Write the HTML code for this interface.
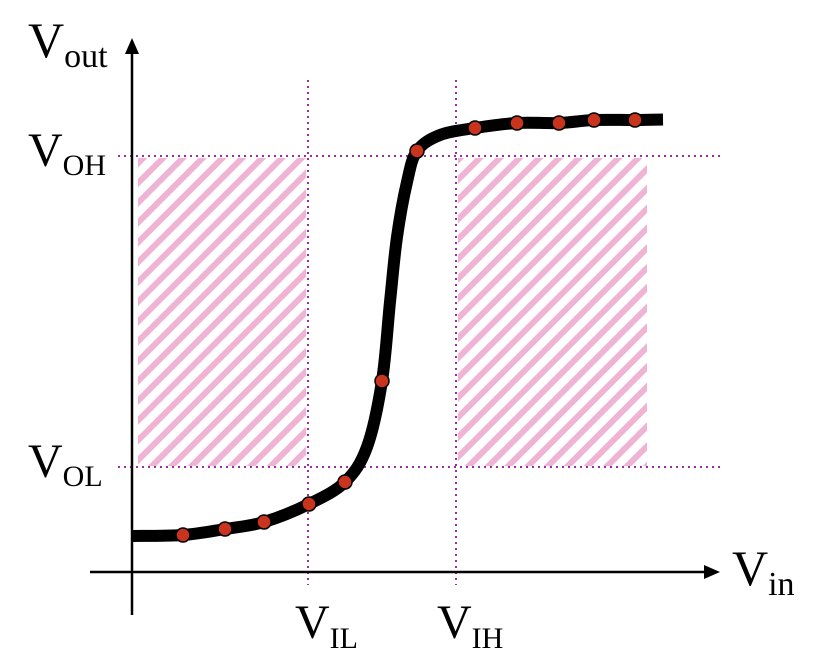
<!DOCTYPE html>
<html><head><meta charset="utf-8"><style>
body{margin:0;background:#fff}
svg text{font-family:"Liberation Serif",serif;fill:#000}
</style></head><body>
<svg width="818" height="666" viewBox="0 0 818 666">
<defs>
<pattern id="hatch" patternUnits="userSpaceOnUse" width="14" height="14" patternTransform="rotate(45)">
<rect x="0" y="0" width="6" height="14" fill="#efb3d3"/>
</pattern>
</defs>
<g id="regions"></g>
<g id="guides" stroke="#9b2fa0" stroke-width="2" stroke-dasharray="2,4"></g>
<line x1="132" y1="615" x2="132" y2="50" stroke="#000" stroke-width="2.5"/>
<polygon points="132,38 125,54 139,54" fill="#000"/>
<line x1="90" y1="572" x2="708" y2="572" stroke="#000" stroke-width="2.5"/>
<polygon points="720,572 704,565 704,579" fill="#000"/>
<path id="curve" fill="none" stroke="#000" stroke-width="12" stroke-linecap="butt"/>
<g id="points"></g>
<text x="28" y="57" font-size="50">V<tspan font-size="34" dy="10">out</tspan></text>
<text x="28" y="166" font-size="48">V<tspan font-size="30" dy="9">OH</tspan></text>
<text x="28" y="477" font-size="48">V<tspan font-size="30" dy="9">OL</tspan></text>
<text x="295" y="638" font-size="48">V<tspan font-size="30" dy="10">IL</tspan></text>
<text x="437" y="638" font-size="48">V<tspan font-size="30" dy="10">IH</tspan></text>
<text x="732" y="585" font-size="50">V<tspan font-size="34" dy="10">in</tspan></text>
</svg>
<script>
const curveVin=[0,1.02,1.86,2.64,3.54,4.26,4.7,5.0,5.16,5.3,5.5,5.7,6.16,6.86,7.7,8.54,9.24,10.06,10.62];
const curveVout=[0.72,0.74,0.86,1.0,1.36,1.8,2.5,3.82,5.4,6.7,7.8,8.42,8.74,8.88,8.98,8.98,9.04,9.04,9.05];
const pointVin=[1.02,1.86,2.64,3.54,4.26,5.0,5.7,6.86,7.7,8.54,9.24,10.06];
const pointVout=[0.74,0.86,1.0,1.36,1.8,3.82,8.42,8.88,8.98,8.98,9.04,9.04];
const VIL=3.52,VIH=6.48,VOL=2.1,VOH=8.32,VMAX=10.3;
const sx=v=>132+v*50, sy=v=>572-v*50;
const NS="http://www.w3.org/2000/svg";
function mk(t,a,p){const e=document.createElementNS(NS,t);for(const k in a)e.setAttribute(k,a[k]);p.appendChild(e);return e;}
const reg=document.getElementById('regions');
const r1=mk('rect',{x:sx(0)+6,y:sy(VOH)+2,width:sx(VIL)-sx(0)-8,height:sy(VOL)-sy(VOH)-3,fill:'url(#hatch)'},reg);


const r2=mk('rect',{x:sx(VIH)+2,y:sy(VOH)+2,width:sx(VMAX)-sx(VIH)-2,height:sy(VOL)-sy(VOH)-3,fill:'url(#hatch)'},reg);


const g=document.getElementById('guides');
const l1=mk('line',{x1:118,y1:sy(VOH),x2:722,y2:sy(VOH)},g);


const l2=mk('line',{x1:118,y1:sy(VOL),x2:722,y2:sy(VOL)},g);


const l3=mk('line',{x1:sx(VIL),y1:80,x2:sx(VIL),y2:585},g);


const l4=mk('line',{x1:sx(VIH),y1:80,x2:sx(VIH),y2:585},g);


const P=curveVin.map((v,i)=>[sx(v),sy(curveVout[i])]);
let d='M'+P[0][0]+','+P[0][1];
for(let i=0;i<P.length-1;i++){const p0=P[Math.max(0,i-1)],p1=P[i],p2=P[i+1],p3=P[Math.min(P.length-1,i+2)];
d+=' C'+(p1[0]+(p2[0]-p0[0])/6)+','+(p1[1]+(p2[1]-p0[1])/6)+' '+(p2[0]-(p3[0]-p1[0])/6)+','+(p2[1]-(p3[1]-p1[1])/6)+' '+p2[0]+','+p2[1];}
document.getElementById('curve').setAttribute('d',d);
const pg=document.getElementById('points');
pointVin.forEach((v,i)=>{const c=mk('circle',{cx:sx(v),cy:sy(pointVout[i]),r:7,fill:'#c8341e',stroke:'#000','stroke-width':1.5},pg);

});
</script>
</body></html>
